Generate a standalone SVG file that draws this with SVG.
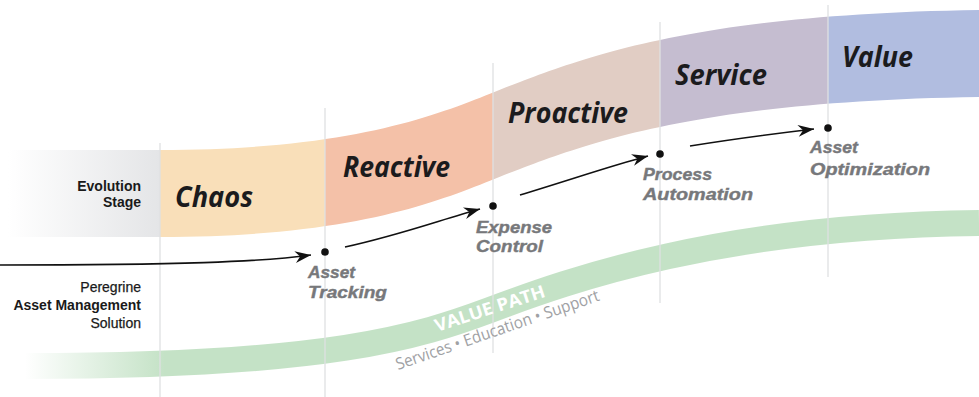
<svg xmlns="http://www.w3.org/2000/svg" width="979" height="397" viewBox="0 0 979 397">
<defs>
<style>
.stage{font-family:"Open Sans","Liberation Sans",sans-serif;font-weight:bold;font-style:italic;font-size:28px;fill:#1b1b1d}
.mile{font-family:"Liberation Sans",Arial,sans-serif;font-weight:bold;font-style:italic;font-size:17px;fill:#77787b;stroke:#77787b;stroke-width:0.4}
.side{font-family:"Liberation Sans",Arial,sans-serif;font-size:14px;fill:#1a1a1a;stroke:#1a1a1a;stroke-width:0.25;text-anchor:end}
.b{font-weight:bold;stroke:none}
.divider{stroke:#dfe0e2;stroke-width:1.3;fill:none}
.conn{fill:none;stroke:#111;stroke-width:1.6}
.dot{fill:#111}
.vp{font-family:"Open Sans","Liberation Sans",sans-serif;font-weight:bold;font-size:17.5px;fill:#ffffff}
.sub{font-family:"Open Sans","Liberation Sans",sans-serif;font-size:16.5px;fill:#a0a1a4}
</style>
<linearGradient id="grayFade" gradientUnits="userSpaceOnUse" x1="8" y1="0" x2="160" y2="0">
<stop offset="0" stop-color="#e4e5e7" stop-opacity="0"/>
<stop offset="1" stop-color="#e4e5e7"/>
</linearGradient>
<linearGradient id="greenFade" gradientUnits="userSpaceOnUse" x1="25" y1="0" x2="165" y2="0">
<stop offset="0" stop-color="#c4e2c6" stop-opacity="0"/>
<stop offset="1" stop-color="#c4e2c6"/>
</linearGradient>
<clipPath id="bandClip">
<path d="M0,150 L160,150 C380,150 460,104 520,82 C590,56 700,14 979,10 L979,97 C700,101 590,143 520,169 C460,191 380,237 160,237 L0,237 Z"/>
</clipPath>
<marker id="arrow" markerUnits="userSpaceOnUse" viewBox="-17 -7 18 14" refX="0" refY="0" markerWidth="18" markerHeight="14" orient="auto">
<path d="M0,0 L-16,-6 L-11,0 L-16,6 Z" fill="#111"/>
</marker>
</defs>

<rect x="0" y="0" width="979" height="397" fill="#ffffff"/>

<g id="value-path">
<path d="M25,366 C330,366 420,336 490,310 C570,280 720,226 979,223" fill="none" stroke="url(#greenFade)" stroke-width="26"/>
</g>

<g id="stage-band" clip-path="url(#bandClip)">
<g id="stage-header"><rect x="0" y="0" width="160" height="260" fill="url(#grayFade)"/></g>
<g id="stage-chaos"><rect x="160" y="0" width="165" height="260" fill="#f9dfb9"/></g>
<g id="stage-reactive"><rect x="325" y="0" width="168" height="260" fill="#f4c1a8"/></g>
<g id="stage-proactive"><rect x="493" y="0" width="167" height="260" fill="#e1cdc4"/></g>
<g id="stage-service"><rect x="660" y="0" width="168" height="260" fill="#c5bdd0"/></g>
<g id="stage-value"><rect x="828" y="0" width="151" height="260" fill="#b1bde0"/></g>
</g>

<g id="dividers">
<line class="divider" x1="160" y1="143" x2="160" y2="397"/>
<line class="divider" x1="325" y1="108" x2="325" y2="397"/>
<line class="divider" x1="493" y1="63" x2="493" y2="353"/>
<line class="divider" x1="660" y1="22" x2="660" y2="303"/>
<line class="divider" x1="828" y1="5" x2="828" y2="277"/>
</g>

<g id="label-evolution-stage">
<text class="side b" x="141" y="191">Evolution</text>
<text class="side b" x="141" y="207">Stage</text>
</g>
<g id="label-solution">
<text class="side" x="141" y="292">Peregrine</text>
<text class="side b" x="141" y="310">Asset Management</text>
<text class="side" x="141" y="328">Solution</text>
</g>

<g id="stage-labels">
<text class="stage" x="175" y="207" textLength="78" lengthAdjust="spacingAndGlyphs">Chaos</text>
<text class="stage" x="343" y="177" textLength="107" lengthAdjust="spacingAndGlyphs">Reactive</text>
<text class="stage" x="508" y="123" textLength="120" lengthAdjust="spacingAndGlyphs">Proactive</text>
<text class="stage" x="675" y="85" textLength="92" lengthAdjust="spacingAndGlyphs">Service</text>
<text class="stage" x="842" y="67" textLength="71" lengthAdjust="spacingAndGlyphs">Value</text>
</g>

<g id="value-path-labels">
<text class="vp" x="437" y="332" transform="rotate(-18 437 332)" textLength="115" lengthAdjust="spacingAndGlyphs">VALUE PATH</text>
<text class="sub" x="398" y="370" transform="rotate(-19 398 370)" textLength="214" lengthAdjust="spacingAndGlyphs">Services • Education • Support</text>
</g>

<g id="connectors">
<path class="conn" d="M0,265 C180,265 260,262 311,255" marker-end="url(#arrow)"/>
<path class="conn" d="M345,247 C400,235 440,220 480,209" marker-end="url(#arrow)"/>
<path class="conn" d="M520,195 C570,180 610,166 648,156" marker-end="url(#arrow)"/>
<path class="conn" d="M690,146 C740,138 780,133 814,129" marker-end="url(#arrow)"/>
</g>

<g id="milestone-asset-tracking">
<circle class="dot" cx="325" cy="252" r="3.8"/>
<text class="mile" x="308" y="278" textLength="47" lengthAdjust="spacingAndGlyphs">Asset</text>
<text class="mile" x="308" y="298" textLength="79" lengthAdjust="spacingAndGlyphs">Tracking</text>
</g>
<g id="milestone-expense-control">
<circle class="dot" cx="493" cy="206" r="3.8"/>
<text class="mile" x="476" y="233" textLength="76" lengthAdjust="spacingAndGlyphs">Expense</text>
<text class="mile" x="476" y="252" textLength="67" lengthAdjust="spacingAndGlyphs">Control</text>
</g>
<g id="milestone-process-automation">
<circle class="dot" cx="660" cy="154" r="3.8"/>
<text class="mile" x="643" y="180" textLength="69" lengthAdjust="spacingAndGlyphs">Process</text>
<text class="mile" x="643" y="200" textLength="110" lengthAdjust="spacingAndGlyphs">Automation</text>
</g>
<g id="milestone-asset-optimization">
<circle class="dot" cx="828" cy="128" r="3.8"/>
<text class="mile" x="810" y="153" textLength="48" lengthAdjust="spacingAndGlyphs">Asset</text>
<text class="mile" x="810" y="175" textLength="120" lengthAdjust="spacingAndGlyphs">Optimization</text>
</g>
</svg>
